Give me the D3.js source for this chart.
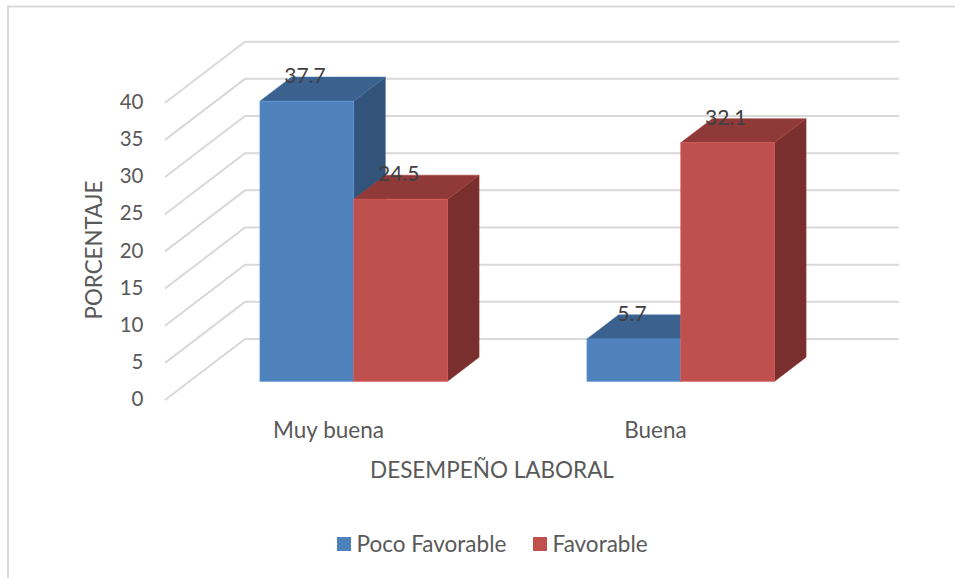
<!DOCTYPE html>
<html>
<head>
<meta charset="utf-8">
<script src="https://cdn.jsdelivr.net/npm/d3@7/dist/d3.min.js"></script>
<style>
html, body { margin: 0; padding: 0; background: #fff; }
svg { display: block; font-family: Lato, "Open Sans", sans-serif; }
</style>
</head>
<body>
<svg id="chart" width="955" height="578"></svg>
<script>
// Chart data
const categories = ["Muy buena", "Buena"];
const seriesNames = ["Poco Favorable", "Favorable"];
const pocoFavorable = [37.7, 5.7];
const favorable = [24.5, 32.1];
const yTicks = [0, 5, 10, 15, 20, 25, 30, 35, 40];

const frontColors = ["#4f81bd", "#c0504d"];
const topColors = ["#3b618f", "#8f3a38"];
const sideColors = ["#32537a", "#7a2f2e"];

const svg = d3.select("#chart");

// Oblique projection of the 3D box: x along the front wall, y up, z into the depth.
const xFront = d3.scaleBand().domain(categories).range([165, 819]);
const xSeries = d3.scaleBand().domain(seriesNames)
  .range([xFront.bandwidth() / 2 - 93, xFront.bandwidth() / 2 + 94.5]);
const yScale = d3.scaleLinear().domain([0, 40]).range([400, 102.7]);
const zX = d3.scaleLinear().domain([0, 1]).range([0, 80]);
const zY = d3.scaleLinear().domain([0, 1]).range([0, -61]);
const project = (x, v, z) => [x + zX(z), yScale(v) + zY(z)];

// Where the bars sit within the depth of the floor
const barZ0 = 0.305;
const barZ1 = 0.701;

// Chart frame: only the top and left edges are visible
svg.append("path")
  .attr("d", "M8,578V6.5H955")
  .attr("fill", "none")
  .attr("stroke", "#d9d9d9")
  .attr("stroke-width", 2);

// Gridlines on the side wall and back wall
const grid = svg.append("g").attr("fill", "none").attr("stroke", "#d9d9d9").attr("stroke-width", 2);
const line = d3.line();
yTicks.forEach(v => {
  grid.append("path").attr("d", line([
    project(165, v, 0),
    project(165, v, 1),
    project(819, v, 1)
  ]));
});

// Value axis labels
svg.append("g").selectAll("text").data(yTicks).join("text")
  .attr("x", 143.5)
  .attr("y", d => yScale(d) + 6.2)
  .attr("text-anchor", "end")
  .attr("font-size", 20.5)
  .attr("fill", "#595959")
  .text(d => d);

// Bars, drawn left to right so each box overlaps the side of the one before it
const rows = [];
categories.forEach((c, i) => {
  seriesNames.forEach((s, j) => {
    rows.push({ c, s, j, v: (j === 0 ? pocoFavorable : favorable)[i] });
  });
});

function box(d) {
  const x0 = xFront(d.c) + xSeries(d.s);
  const x1 = x0 + xSeries.bandwidth();
  const g = svg.append("g").attr("stroke-width", 1);
  const face = (pts, fill) => g.append("path")
    .attr("d", line(pts) + "Z")
    .attr("fill", fill)
    .attr("stroke", d3.color(fill).brighter(0.5))
    .attr("stroke-opacity", 0.55);
  face([project(x1, 0, barZ0), project(x1, 0, barZ1), project(x1, d.v, barZ1), project(x1, d.v, barZ0)], sideColors[d.j]);
  face([project(x0, d.v, barZ0), project(x1, d.v, barZ0), project(x1, d.v, barZ1), project(x0, d.v, barZ1)], topColors[d.j]);
  face([project(x0, 0, barZ0), project(x1, 0, barZ0), project(x1, d.v, barZ0), project(x0, d.v, barZ0)], frontColors[d.j]);
}
rows.forEach(box);

// Value labels resting on the top faces
svg.append("g").selectAll("text").data(rows).join("text")
  .attr("x", d => project(xFront(d.c) + xSeries(d.s) + xSeries.bandwidth() / 2, d.v, barZ0)[0] - 1.8)
  .attr("y", d => project(0, d.v, barZ0)[1] - 18.3)
  .attr("text-anchor", "middle")
  .attr("font-size", 21)
  .attr("fill", "#404040")
  .text(d => d.v);

// Category labels
svg.append("g").selectAll("text").data(categories).join("text")
  .attr("x", d => xFront(d) + xFront.bandwidth() / 2)
  .attr("y", 437.7)
  .attr("text-anchor", "middle")
  .attr("font-size", 22.5)
  .attr("fill", "#595959")
  .text(d => d);

// Axis titles
svg.append("text")
  .attr("x", 492).attr("y", 478)
  .attr("text-anchor", "middle")
  .attr("font-size", 22.5)
  .attr("fill", "#595959")
  .text("DESEMPEÑO LABORAL");

svg.append("text")
  .attr("transform", "translate(102,250) rotate(-90)")
  .attr("text-anchor", "middle")
  .attr("font-size", 22.3)
  .attr("fill", "#595959")
  .text("PORCENTAJE");

// Legend
const legendX = [337, 533];
const legend = svg.append("g").selectAll("g").data(seriesNames).join("g")
  .attr("transform", (d, i) => `translate(${legendX[i]},537)`);
legend.append("rect").attr("width", 14).attr("height", 14).attr("fill", (d, i) => frontColors[i]);
legend.append("text")
  .attr("x", 19.5).attr("y", 14.7)
  .attr("font-size", 22.5)
  .attr("fill", "#595959")
  .text(d => d);
</script>
</body>
</html>
